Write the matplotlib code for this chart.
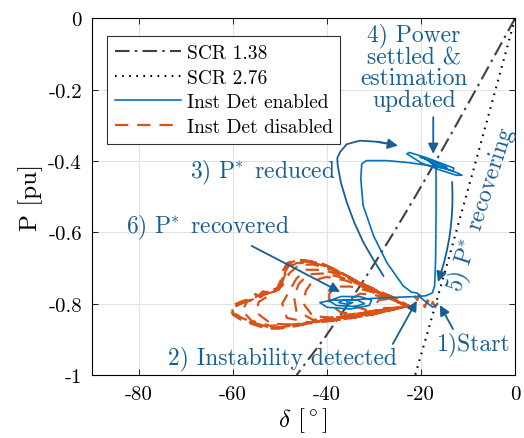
import numpy as np
import matplotlib
matplotlib.use('Agg')
import matplotlib.pyplot as plt

plt.rcParams['font.family'] = 'cmr10'
plt.rcParams['mathtext.fontset'] = 'cm'
plt.rcParams['axes.unicode_minus'] = False

# SCR stability limits (P vs delta)
scr_p = [0, -0.1, -0.2, -0.3, -0.4, -0.5, -0.6, -0.7, -0.8, -0.9, -1.0]
scr138_delta = [0, -4.16, -8.33, -12.56, -16.85, -21.24, -25.77, -30.48, -35.43, -40.71, -46.44]
scr276_delta = [0, -2.08, -4.16, -6.24, -8.33, -10.44, -12.56, -14.69, -16.85, -19.03, -21.24]

# Inst Det enabled trajectory
blue_delta = [-16.5, -17.5, -19.0, -20.3, -20.8, -22.0, -23.8, -27.3, -30.1, -32.3, -32.8, -32.6,
              -31.6, -27.3, -23.0, -18.1,
              -15.0, -12.0, -11.3, -12.5, -16.0, -20.0, -23.0, -22.5, -19.0, -16.0, -13.0, -13.2,
              -16.0, -19.5, -20.2, -18.0, -16.0, -14.5, -15.5, -17.0, -18.0, -17.0, -16.8,
              -16.8, -16.8, -16.9, -17.1, -17.6, -19.0, -21.0, -25.0, -30.0, -35.0, -39.0,
              -41.5, -40.0, -35.0, -31.0, -30.5, -33.0, -37.0, -39.5, -38.0, -34.0, -32.0,
              -33.5, -36.5, -37.5, -35.5, -34.5, -35.8]
blue_p = [-0.800, -0.810, -0.795, -0.780, -0.770, -0.768, -0.750, -0.684, -0.609, -0.525, -0.450, -0.408,
          -0.399, -0.399, -0.404, -0.413,
          -0.420, -0.435, -0.440, -0.440, -0.425, -0.405, -0.380, -0.376, -0.390, -0.405, -0.420, -0.428,
          -0.418, -0.392, -0.389, -0.398, -0.410, -0.418, -0.418, -0.410, -0.405, -0.412, -0.420,
          -0.430, -0.550, -0.680, -0.750, -0.770, -0.778, -0.780, -0.782, -0.785, -0.790, -0.790,
          -0.797, -0.810, -0.815, -0.805, -0.790, -0.780, -0.780, -0.792, -0.805, -0.808, -0.800,
          -0.790, -0.789, -0.797, -0.802, -0.797, -0.795]

# Inst Det disabled trajectory: start wiggle, then growing loops
o_start_d = [-16.5, -17.0, -17.5, -18.0, -18.6, -19.2, -19.8, -20.3, -20.8, -21.3, -22.0, -22.8]
o_start_p = [-0.800, -0.810, -0.795, -0.812, -0.790, -0.810, -0.785, -0.775, -0.790, -0.780, -0.800, -0.806]
o_loop1_d = [-25.0, -27.0, -29.0, -29.5, -28.0, -25.5, -23.0]
o_loop1_p = [-0.795, -0.787, -0.790, -0.800, -0.812, -0.812, -0.807]
o_loop2_d = [-26.0, -30.0, -33.0, -34.5, -34.0, -31.0, -27.0, -23.0]
o_loop2_p = [-0.790, -0.775, -0.772, -0.785, -0.808, -0.820, -0.817, -0.807]
o_loop3_d = [-27.0, -31.0, -35.0, -38.0, -39.5, -39.5, -37.0, -32.0, -27.0, -23.0]
o_loop3_p = [-0.783, -0.765, -0.752, -0.752, -0.772, -0.800, -0.825, -0.830, -0.820, -0.807]
o_loop4_d = [-27.5, -32.0, -36.0, -40.0, -43.0, -44.5, -45.0, -43.0, -38.0, -32.0, -27.0, -23.0]
o_loop4_p = [-0.780, -0.755, -0.735, -0.725, -0.735, -0.765, -0.800, -0.835, -0.840, -0.832, -0.820, -0.807]
o_loop5_d = [-27.8, -32.5, -36.5, -40.5, -44.0, -46.0, -47.0, -46.5, -43.0, -37.0, -30.0, -23.0]
o_loop5_p = [-0.778, -0.750, -0.728, -0.715, -0.718, -0.745, -0.780, -0.820, -0.845, -0.843, -0.828, -0.807]
o_loop6_d = [-28.0, -33.0, -37.0, -41.0, -44.5, -46.5, -48.0, -49.5, -48.5, -44.0, -37.0, -30.0, -23.0]
o_loop6_p = [-0.775, -0.745, -0.720, -0.705, -0.705, -0.730, -0.765, -0.800, -0.840, -0.852, -0.845, -0.830, -0.807]
o_loop7_d = [-28.5, -34.0, -39.0, -43.0, -46.0, -48.0, -49.5, -52.0, -54.5, -55.0, -52.0, -47.0, -40.0, -32.0, -23.0]
o_loop7_p = [-0.772, -0.737, -0.705, -0.690, -0.692, -0.715, -0.750, -0.775, -0.795, -0.825, -0.855, -0.860, -0.850, -0.835, -0.807]
o_loop8_d = [-28.5, -34.0, -39.0, -43.0, -46.5, -48.5, -49.5, -51.0, -54.0, -57.0, -58.0, -56.0, -52.0, -47.0, -40.0, -32.0, -23.0]
o_loop8_p = [-0.770, -0.735, -0.700, -0.685, -0.686, -0.705, -0.740, -0.765, -0.778, -0.795, -0.820, -0.848, -0.862, -0.858, -0.846, -0.830, -0.807]
o_outer1_d = [-25.1, -28.7, -31.5, -34.5, -37.2, -40.0, -41.5, -44.7, -46.8, -48.3, -49.1, -49.6, -50.4,
              -52.6, -53.5, -54.3, -55.0, -56.0, -57.1, -58.0, -59.4, -60.2, -59.8, -58.1, -55.3,
              -52.6, -50.0, -46.8, -41.5, -36.2, -30.9, -25.5, -22.8]
o_outer1_p = [-0.787, -0.767, -0.750, -0.731, -0.711, -0.694, -0.686, -0.680, -0.680, -0.689, -0.708, -0.736, -0.759,
              -0.767, -0.768, -0.780, -0.775, -0.790, -0.792, -0.796, -0.804, -0.815, -0.829, -0.843, -0.857,
              -0.868, -0.868, -0.862, -0.848, -0.834, -0.823, -0.812, -0.806]
o_outer2_d = [-25.3, -28.9, -31.8, -34.8, -37.5, -40.2, -41.8, -44.9, -47.0, -48.5, -49.3, -49.8, -50.6,
              -52.8, -53.7, -54.5, -55.2, -56.2, -57.3, -58.2, -59.6, -60.4, -60.0, -58.3, -55.5,
              -52.8, -50.2, -47.0, -41.7, -36.4, -31.1, -25.7, -22.6]
o_outer2_p = [-0.786, -0.765, -0.748, -0.729, -0.709, -0.692, -0.684, -0.678, -0.678, -0.687, -0.706, -0.734, -0.757,
              -0.765, -0.766, -0.778, -0.773, -0.788, -0.790, -0.794, -0.802, -0.814, -0.831, -0.845, -0.859,
              -0.870, -0.870, -0.864, -0.850, -0.836, -0.825, -0.813, -0.806]
o_outer3_d = [-25.0, -28.5, -31.3, -34.3, -37.0, -39.8, -41.3, -44.5, -46.6, -48.0, -48.9, -49.4, -50.2,
              -52.4, -53.3, -54.1, -54.8, -55.8, -56.9, -57.8, -59.2, -60.0, -59.6, -57.9, -55.1,
              -52.4, -49.8, -46.6, -41.3, -36.0, -30.7, -25.3, -22.8]
o_outer3_p = [-0.788, -0.769, -0.752, -0.733, -0.713, -0.696, -0.688, -0.682, -0.683, -0.692, -0.710, -0.738, -0.761,
              -0.769, -0.770, -0.782, -0.777, -0.792, -0.794, -0.798, -0.806, -0.816, -0.828, -0.841, -0.855,
              -0.866, -0.866, -0.860, -0.846, -0.832, -0.821, -0.811, -0.806]

# annotation arrow 3) follows a hooked path
arrow3_d = [-28.0, -30.2, -32.3, -34.2, -35.8, -37.0, -37.7, -37.8, -37.2, -35.8, -33.0, -29.4, -27.0, -24.9]
arrow3_p = [-0.722, -0.675, -0.627, -0.572, -0.515, -0.462, -0.414, -0.392, -0.375, -0.353, -0.343, -0.346, -0.351, -0.357]

xtick_vals = [-80, -60, -40, -20, 0]
xtick_labels = ['-80', '-60', '-40', '-20', '0']
ytick_vals = [-1, -0.8, -0.6, -0.4, -0.2, 0]
ytick_labels = ['-1', '-0.8', '-0.6', '-0.4', '-0.2', '0']

orange_delta = (o_start_d + o_loop1_d + o_loop2_d + o_loop3_d + o_loop4_d + o_loop5_d
                + o_loop6_d + o_loop7_d + o_loop8_d + o_outer1_d + o_outer2_d + o_outer3_d)
orange_p = (o_start_p + o_loop1_p + o_loop2_p + o_loop3_p + o_loop4_p + o_loop5_p
            + o_loop6_p + o_loop7_p + o_loop8_p + o_outer1_p + o_outer2_p + o_outer3_p)

c_blue = '#0072BD'
c_orange = '#D95319'
c_ann = '#175E95'

fig = plt.figure(figsize=(5.24, 4.39), dpi=100)
ax = fig.add_axes([0.175, 0.1435, 0.808, 0.8125])

l1, = ax.plot(scr138_delta, scr_p, color='#404040', lw=1.5, dashes=(7, 2.5, 1.2, 2.5), label='SCR 1.38')
l2, = ax.plot(scr276_delta, scr_p, color='black', lw=1.5, dashes=(0.8, 2.6), label='SCR 2.76')
l4, = ax.plot(orange_delta, orange_p, color=c_orange, lw=1.6, dashes=(6, 4), label='Inst Det disabled', zorder=2)
l3, = ax.plot(blue_delta, blue_p, color=c_blue, lw=1.2, label='Inst Det enabled', zorder=3)

ax.set_xlim(-90, 0)
ax.set_ylim(-1, 0)
ax.set_xticks(xtick_vals)
ax.set_xticklabels(xtick_labels)
ax.set_yticks(ytick_vals)
ax.set_yticklabels(ytick_labels)
ax.tick_params(direction='in', top=True, right=True, labelsize=15, length=4, width=0.6, pad=7)
ax.grid(True, color='#e3e3e3', lw=0.8)
ax.set_axisbelow(True)
for s in ax.spines.values():
    s.set_linewidth(0.8)

ax.set_xlabel(r'$\delta$ [$^\circ$]', fontsize=18, labelpad=2)
ax.set_ylabel('P [pu]', fontsize=18, labelpad=4)

leg = ax.legend(handles=[l1, l2, l3, l4], loc='upper left', bbox_to_anchor=(0.036, 0.950),
                borderaxespad=0, fontsize=14, handlelength=3.4, handletextpad=0.3,
                labelspacing=0.35, fancybox=False, framealpha=1, edgecolor='#333333',
                borderpad=0.4)
leg.get_frame().set_linewidth(0.8)

arrow_kw = dict(arrowstyle='-|>', color=c_ann, lw=1.3, mutation_scale=15, shrinkA=0, shrinkB=0)
fs = 17
pstar = r'$\mathrm{P}^{\!\!*}$'

ax.text(-21.5, -0.135, '4) Power\nsettled &\nestimation\nupdated', color=c_ann, fontsize=fs,
        ha='center', va='center', linespacing=0.95)
ax.annotate('', xy=(-17.4, -0.38), xytext=(-17.4, -0.277), arrowprops=arrow_kw)

ax.text(-69.1, -0.431, '3) ' + pstar + ' reduced', color=c_ann, fontsize=fs, ha='left', va='center')
ax.plot(arrow3_d[:-1], arrow3_p[:-1], color=c_ann, lw=1.3, zorder=4)
ax.annotate('', xy=(arrow3_d[-1], arrow3_p[-1]), xytext=(arrow3_d[-3], arrow3_p[-3]),
            arrowprops=arrow_kw, zorder=4)

ax.text(-82.8, -0.585, '6) ' + pstar + ' recovered', color=c_ann, fontsize=fs, ha='left', va='center')
ax.annotate('', xy=(-37.2, -0.767), xytext=(-56.0, -0.638), arrowprops=arrow_kw)

ax.text(-73.8, -0.952, '2) Instability detected', color=c_ann, fontsize=fs, ha='left', va='center')
ax.annotate('', xy=(-20.9, -0.792), xytext=(-26.0, -0.913), arrowprops=arrow_kw)

ax.text(-16.6, -0.913, '1)Start', color=c_ann, fontsize=fs, ha='left', va='center')
ax.annotate('', xy=(-16.0, -0.804), xytext=(-13.2, -0.871), arrowprops=arrow_kw)

ax.text(-7.0, -0.535, '5) ' + pstar + ' recovering', color=c_ann, fontsize=fs, ha='center', va='center',
        rotation=72, rotation_mode='anchor')
ax.annotate('', xy=(-16.4, -0.739), xytext=(-13.4, -0.459),
            arrowprops=dict(arrow_kw, connectionstyle='arc3,rad=-0.1'))

fig.savefig('out.png', dpi=100)
